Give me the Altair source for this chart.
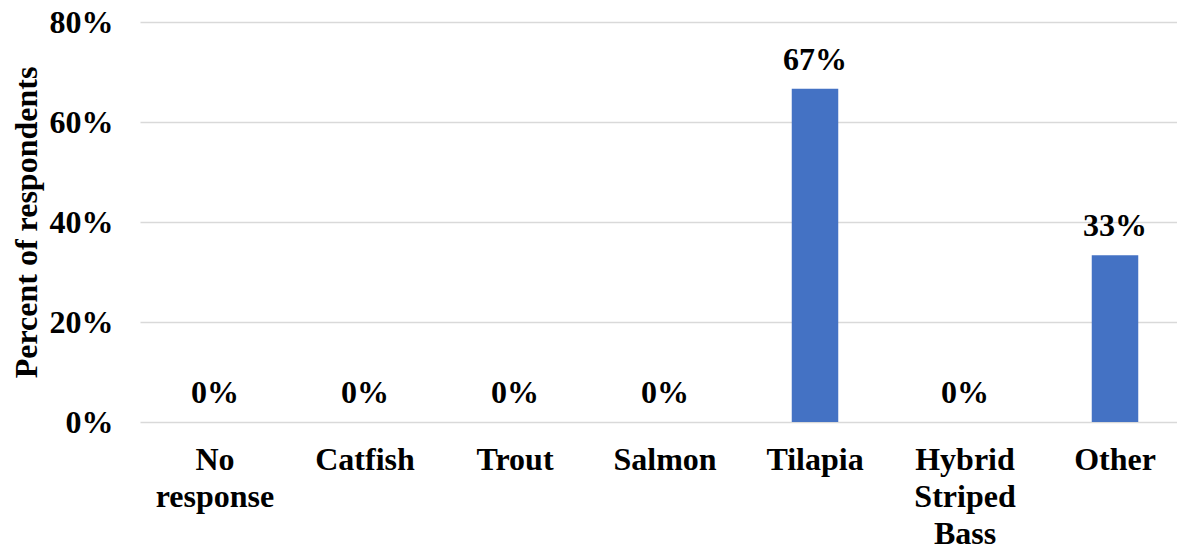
import altair as alt
import pandas as pd

categories = ["No response", "Catfish", "Trout", "Salmon", "Tilapia", "Hybrid Striped Bass", "Other"]
values = [0.0, 0.0, 0.0, 0.0, 0.6667, 0.0, 0.3333]
y_ticks = [0.0, 0.2, 0.4, 0.6, 0.8]

df = pd.DataFrame({"category": categories, "value": values})

FONT = "Liberation Serif"
FS = 32

label_expr = ("datum.label == 'No response' ? ['No','response'] : "
              "datum.label == 'Hybrid Striped Bass' ? ['Hybrid','Striped','Bass'] : datum.label")

x_scale = alt.Scale(range=[0, 1050], paddingInner=0.69, paddingOuter=0.345)

x_enc = alt.X(
    "category:N",
    sort=categories,
    scale=x_scale,
    axis=alt.Axis(
        title=None, labelAngle=0, domain=False, ticks=False,
        labelFont=FONT, labelFontSize=FS, labelFontWeight="bold", labelColor="black",
        labelLineHeight=37, labelPadding=22, labelExpr=label_expr, labelBaseline="top",
    ),
)

y_enc = alt.Y(
    "value:Q",
    scale=alt.Scale(domain=[0, 0.8]),
    axis=alt.Axis(
        title="Percent of respondents", values=y_ticks, format=".0%",
        domain=False, ticks=False, grid=True, gridColor="#d9d9d9", gridWidth=1.3,
        labelFont=FONT, labelFontSize=FS, labelFontWeight="bold", labelColor="black",
        labelPadding=27, labelBaseline="middle",
        titleFont=FONT, titleFontSize=FS, titleFontWeight="bold", titleColor="black",
        titleX=-104, titleY=200, titleAngle=-90, titleAlign="center", titleBaseline="alphabetic",
    ),
)

bars = alt.Chart(df).mark_bar(color="#4472C4").encode(x=x_enc, y=y_enc)

labels = alt.Chart(df).mark_text(
    font=FONT, fontSize=FS, fontWeight="bold", color="black", baseline="alphabetic", dy=-19
).encode(
    x=alt.X("category:N", sort=categories, scale=x_scale),
    y="value:Q",
    text=alt.Text("value:Q", format=".0%"),
)

chart = (bars + labels).properties(
    width=1037, height=400,
    autosize=alt.AutoSizeParams(type="none"),
    padding={"left": 132, "top": 14, "right": 0, "bottom": 126},
).configure_view(stroke=None)

chart.save("out.html", embed_options={"renderer": "svg", "actions": False})
